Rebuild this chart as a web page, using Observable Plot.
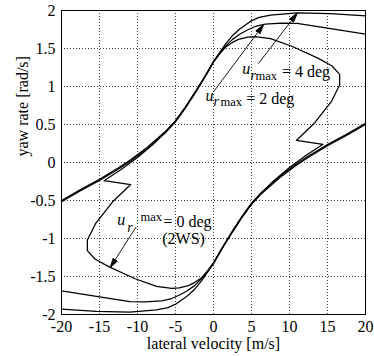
<!DOCTYPE html>
<html><head><meta charset="utf-8">
<script src="https://cdn.jsdelivr.net/npm/d3@7"></script>
<script src="https://cdn.jsdelivr.net/npm/@observablehq/plot@0.6"></script>
<style>body{margin:0;background:#fff}</style>
</head><body><div id="chart"></div>
<script>
// ---- axes ----
const xTicks = [-20, -15, -10, -5, 0, 5, 10, 15, 20];
const yTicks = [-2, -1.5, -1, -0.5, 0, 0.5, 1, 1.5, 2];
const xLabel = "lateral velocity [m/s]";
const yLabel = "yaw rate [rad/s]";

// ---- curves: [lateral velocity, yaw rate] ----
const deg4Upper = [[-20,-0.50],[-17.5,-0.355],[-15,-0.22],[-12.5,-0.07],[-10.9,0.035],[-8.7,0.2],[-6.3,0.41],[-5,0.55],[-3.7,0.73],[-2.4,0.93],[-1.7,1.04],[-0.8,1.19],[0,1.33],[0.9,1.46],[1.6,1.56],[2.5,1.67],[3.5,1.76],[4.9,1.86],[6,1.91],[7.5,1.94],[11,1.97],[15.4,1.96],[20,1.93]];
const deg4Lower = [[-20,-1.93],[-15.4,-1.96],[-11,-1.97],[-7.5,-1.94],[-6,-1.91],[-4.9,-1.86],[-3.5,-1.76],[-2.5,-1.67],[-1.6,-1.56],[-0.9,-1.46],[0,-1.33],[0.8,-1.19],[1.7,-1.04],[2.4,-0.93],[3.7,-0.73],[5,-0.55],[6.3,-0.41],[8.7,-0.2],[10.9,-0.035],[12.5,0.07],[15,0.22],[17.5,0.355],[20,0.5]];
const deg2Upper = [[-20,-0.515],[-17.5,-0.37],[-15,-0.235],[-12.5,-0.085],[-10.9,0.02],[-8.7,0.185],[-6.3,0.395],[-5,0.535],[-3.7,0.715],[-2.4,0.915],[-1.7,1.03],[-0.8,1.18],[0,1.32],[0.9,1.45],[1.6,1.53],[2.5,1.62],[3.5,1.69],[4.4,1.74],[5.5,1.79],[6.8,1.82],[9,1.835],[11,1.83],[15.4,1.76],[20,1.69]];
const deg2Lower = [[-20,-1.69],[-15.4,-1.76],[-11,-1.83],[-9,-1.835],[-6.8,-1.82],[-5.5,-1.79],[-4.4,-1.74],[-3.5,-1.69],[-2.5,-1.62],[-1.6,-1.53],[-0.9,-1.45],[0,-1.32],[0.8,-1.18],[1.7,-1.03],[2.4,-0.915],[3.7,-0.715],[5,-0.535],[6.3,-0.395],[8.7,-0.185],[10.9,-0.02],[12.5,0.085],[15,0.235],[17.5,0.37],[20,0.515]];
const deg0Loop = [[-14.4,-0.24],[-12.2,-0.095],[-10,0.065],[-7.85,0.245],[-6.3,0.405],[-5,0.545],[-3.7,0.725],[-2.4,0.925],[-1.7,1.035],[-0.8,1.185],[0,1.325],[0.9,1.44],[1.6,1.52],[2.5,1.58],[3.3,1.62],[4.5,1.65],[5.5,1.655],[7.5,1.63],[10.3,1.53],[13.8,1.37],[15.6,1.27],[16.6,1.16],[16.6,1.02],[16.1,0.92],[15.5,0.8],[13.3,0.52],[10.9,0.29],[14.4,0.24],[12.2,0.095],[10,-0.065],[7.85,-0.245],[6.3,-0.405],[5,-0.545],[3.7,-0.725],[2.4,-0.925],[1.7,-1.035],[0.8,-1.185],[0,-1.325],[-0.9,-1.44],[-1.6,-1.52],[-2.5,-1.58],[-3.3,-1.62],[-4.5,-1.65],[-5.5,-1.655],[-7.5,-1.63],[-10.3,-1.53],[-13.8,-1.37],[-15.6,-1.27],[-16.6,-1.16],[-16.6,-1.02],[-16.1,-0.92],[-15.5,-0.8],[-13.3,-0.52],[-10.9,-0.29],[-14.4,-0.24]];

// ---- annotation arrows: tail -> head ----
const arrowNames = ["4 deg", "2 deg", "0 deg"];
const arrowTails = [[5.9, 1.3], [0.0, 0.93], [-10.2, -0.85]];
const arrowHeads = [[11.05, 1.97], [6.6, 1.815], [-13.6, -1.385]];

// ---- annotation texts ----
const italicLabels = [
  {t: "u", x: 3.78, y: 1.158, s: 16}, {t: "r", x: 4.87, y: 1.09, s: 14},
  {t: "u", x: -1.05, y: 0.81, s: 16}, {t: "r", x: 0.0, y: 0.737, s: 14},
  {t: "u", x: -12.67, y: -0.816, s: 16}, {t: "r", x: -11.36, y: -0.908, s: 14}
];
const romanLabels = [
  {t: "max", x: 5.53, y: 1.08, s: 12.5}, {t: "= 4 deg", x: 9.0, y: 1.124, s: 16},
  {t: "max", x: 0.92, y: 0.737, s: 12.5}, {t: "= 2 deg", x: 4.3, y: 0.776, s: 16},
  {t: "max", x: -9.6, y: -0.776, s: 12.5}, {t: "= 0 deg", x: -6.58, y: -0.849, s: 16},
  {t: "(2WS)", x: -6.75, y: -1.066, s: 16}
];

const rows = [];
[["4up", deg4Upper], ["4lo", deg4Lower], ["2up", deg2Upper], ["2lo", deg2Lower], ["0", deg0Loop]]
  .forEach(([s, pts]) => pts.forEach(([x, y]) => rows.push({series: s, x, y})));
const arrows = arrowNames.map((n, i) => ({n, x1: arrowTails[i][0], y1: arrowTails[i][1], x2: arrowHeads[i][0], y2: arrowHeads[i][1]}));

function filledArrow(color) {
  const ns = "http://www.w3.org/2000/svg";
  const m = document.createElementNS(ns, "marker");
  m.setAttribute("viewBox", "-10 -3 10 6");
  m.setAttribute("markerWidth", "10");
  m.setAttribute("markerHeight", "6");
  m.setAttribute("markerUnits", "userSpaceOnUse");
  m.setAttribute("refX", "0");
  m.setAttribute("refY", "0");
  m.setAttribute("orient", "auto");
  const p = document.createElementNS(ns, "path");
  p.setAttribute("d", "M0,0L-10,-2.6L-10,2.6Z");
  p.setAttribute("fill", color);
  m.appendChild(p);
  return m;
}

const serif = "'Liberation Serif', 'Times New Roman', Times, serif";
const chart = Plot.plot({
  width: 374, height: 356,
  marginLeft: 61, marginRight: 9, marginTop: 10, marginBottom: 42,
  style: {fontFamily: serif, fontSize: "16px", color: "black", background: "white"},
  x: {domain: [-20, 20], ticks: xTicks, tickSize: 0, tickPadding: 6, tickFormat: d => String(d), label: null},
  y: {domain: [-2, 2], ticks: yTicks, tickSize: 0, tickPadding: 6, tickFormat: d => String(d), label: null},
  marks: [
    Plot.ruleX(xTicks.slice(1, -1), {stroke: "#000", strokeOpacity: 0.75, strokeDasharray: "1,2"}),
    Plot.ruleY(yTicks.slice(1, -1), {stroke: "#000", strokeOpacity: 0.75, strokeDasharray: "1,2"}),
    Plot.frame({stroke: "black", strokeWidth: 1}),
    Plot.line(rows, {x: "x", y: "y", z: "series", stroke: "black", strokeWidth: 1.25, curve: "linear"}),
    Plot.link(arrows, {x1: "x1", y1: "y1", x2: "x2", y2: "y2", stroke: "black", strokeWidth: 0.9, markerEnd: filledArrow}),
    Plot.text(italicLabels, {x: "x", y: "y", text: "t", fontSize: "s", fontStyle: "italic", textAnchor: "start", lineAnchor: "bottom", fill: "black"}),
    Plot.text(romanLabels, {x: "x", y: "y", text: "t", fontSize: "s", textAnchor: "start", lineAnchor: "bottom", fill: "black"}),
    Plot.text([xLabel], {frameAnchor: "bottom", dy: 34, fontSize: 16, fill: "black"}),
    Plot.text([yLabel], {frameAnchor: "left", dx: -39, dy: -6, rotate: -90, fontSize: 16, fill: "black"})
  ]
});
document.getElementById("chart").appendChild(chart);
</script>
</body></html>
